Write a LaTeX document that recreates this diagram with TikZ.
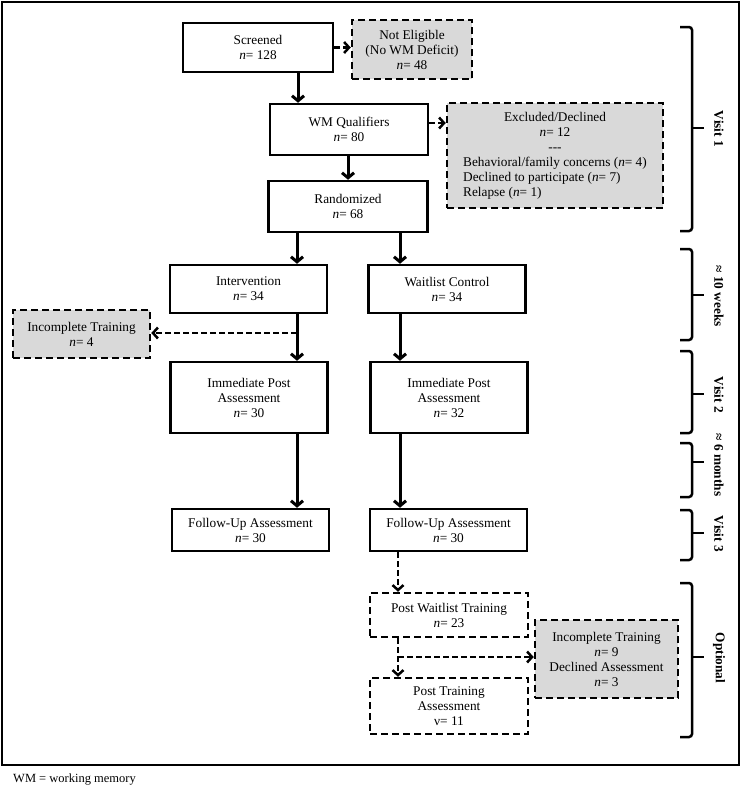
\documentclass[tikz,border=0pt]{standalone}
\usepackage{fontspec}
\setmainfont{Liberation Serif}
\usetikzlibrary{arrows.meta}
\definecolor{boxgray}{HTML}{D9D9D9}
\newcommand{\mainfs}{\fontsize{13.3}{15}\selectfont}
\begin{document}
\begin{tikzpicture}[x=1pt,y=-1pt,
  solidbox/.style={draw, line width=2.5pt, fill=white, align=center, inner sep=2pt, font=\mainfs},
  dashbox/.style={solidbox, dash pattern=on 7pt off 4pt},
  graybox/.style={dashbox, fill=boxgray},
  arr/.style={line width=3pt, -{Straight Barb[length=5pt,width=12pt]}},
  darr/.style={line width=2.5pt, dash pattern=on 6pt off 3pt, -{Straight Barb[length=5pt,width=11pt]}},
  brc/.style={line width=2.5pt, rounded corners=3pt},
  tick/.style={line width=2.5pt},
  lab/.style={font=\mainfs\bfseries, rotate=-90}]
\useasboundingbox (0,0) rectangle (742,790);
\draw[line width=2pt] (2,2) rectangle (739,765);

% nodes
\node[solidbox, minimum width=150pt, minimum height=49pt] (scr) at (258,47.5) {Screened\\\textit{n}= 128};
\node[graybox, minimum width=120pt, minimum height=59pt] (ne) at (412,49.5) {Not Eligible\\(No WM Deficit)\\\textit{n}= 48};
\node[solidbox, minimum width=158pt, minimum height=51pt] (wm) at (349,129.5) {WM Qualifiers\\\textit{n}= 80};
\node[graybox, minimum width=216pt, minimum height=105pt] (ex) at (555,155.5) {\begin{tabular}{@{}l@{}}\multicolumn{1}{@{}c@{}}{Excluded/Declined}\\\multicolumn{1}{@{}c@{}}{\textit{n}= 12}\\\multicolumn{1}{@{}c@{}}{-{}-{}-}\\Behavioral/family concerns (\textit{n}= 4)\\Declined to participate (\textit{n}= 7)\\Relapse (\textit{n}= 1)\end{tabular}};
\node[solidbox, minimum width=159pt, minimum height=51pt] (rand) at (348,206.5) {Randomized\\\textit{n}= 68};
\node[solidbox, minimum width=157pt, minimum height=48pt] (int) at (248.5,289) {Intervention\\\textit{n}= 34};
\node[solidbox, minimum width=157pt, minimum height=48pt] (wait) at (447,289) {Waitlist Control\\\textit{n}= 34};
\node[graybox, minimum width=137pt, minimum height=48pt] (inc1) at (81.5,334) {Incomplete Training\\\textit{n}= 4};
\node[solidbox, minimum width=157pt, minimum height=71pt] (imm1) at (249,397.5) {Immediate Post\\Assessment\\\textit{n}= 30};
\node[solidbox, minimum width=157pt, minimum height=71pt] (imm2) at (449,397.5) {Immediate Post\\Assessment\\\textit{n}= 32};
\node[solidbox, minimum width=157pt, minimum height=42pt] (fu1) at (250.5,530) {Follow-Up Assessment\\\textit{n}= 30};
\node[solidbox, minimum width=157pt, minimum height=42pt] (fu2) at (448.5,530) {Follow-Up Assessment\\\textit{n}= 30};
\node[dashbox, minimum width=158pt, minimum height=44pt] (pw) at (449,615) {Post Waitlist Training\\\textit{n}= 23};
\node[graybox, minimum width=143pt, minimum height=78pt] (inc2) at (606.5,659) {Incomplete Training\\\textit{n}= 9\\Declined Assessment\\\textit{n}= 3};
\node[dashbox, minimum width=158pt, minimum height=56pt] (pt) at (449,706) {Post Training\\Assessment\\ν= 11};

% helper coordinates
\coordinate (xa) at (298,0);
\coordinate (xb) at (348,0);
\coordinate (xc) at (297,0);
\coordinate (xd) at (400,0);
\coordinate (xe) at (398,0);
\coordinate (ya) at (0,123);
\coordinate (br1) at (297,333);
\coordinate (br2) at (398,657);

% connectors
\draw[darr] (scr.east) -- (scr.east -| ne.west);
\draw[arr] (scr.south -| xa) -- (wm.north -| xa);
\draw[darr] (wm.east |- ya) -- (ex.west |- ya);
\draw[arr] (wm.south -| xb) -- (rand.north -| xb);
\draw[arr] (rand.south -| xc) -- (int.north -| xc);
\draw[arr] (rand.south -| xd) -- (wait.north -| xd);
\draw[arr] (int.south -| xc) -- (imm1.north -| xc);
\draw[darr] (br1) -- (inc1.east |- br1);
\draw[arr] (wait.south -| xd) -- (imm2.north -| xd);
\draw[arr] (imm1.south -| xc) -- (fu1.north -| xc);
\draw[arr] (imm2.south -| xd) -- (fu2.north -| xd);
\draw[darr] (fu2.south -| xe) -- (pw.north -| xe);
\draw[darr] (pw.south -| xe) -- (pt.north -| xe);
\draw[darr] (br2) -- (inc2.west |- br2);

% braces and labels
\draw[brc] (680,27) -- (692,27) -- (692,231) -- (680,231);
\draw[tick] (692,128) -- (704,128);
\node[lab] (v1) at (719,129) {Visit 1};

\draw[brc] (680,249) -- (692,249) -- (692,340) -- (680,340);
\draw[tick] (692,295) -- (704,295);
\node[lab] (w10) at (719,296) {≈ 10 weeks};

\draw[brc] (680,351) -- (692,351) -- (692,433) -- (680,433);
\draw[tick] (692,394) -- (704,394);
\node[lab] (v2) at (719,395) {Visit 2};

\draw[brc] (680,443) -- (692,443) -- (692,497) -- (680,497);
\draw[tick] (692,462) -- (704,462);
\node[lab] (m6) at (719,465) {≈ 6 months};

\draw[brc] (680,510) -- (692,510) -- (692,560) -- (680,560);
\draw[tick] (692,533) -- (704,533);
\node[lab] (v3) at (719,534) {Visit 3};

\draw[brc] (680,583) -- (692,583) -- (692,737) -- (680,737);
\draw[tick] (692,657) -- (704,657);
\node[lab] (opt) at (719,658) {Optional};

\node[anchor=west, font=\fontsize{12.5}{14}\selectfont, inner sep=0pt] (cap) at (13,780) {WM = working memory};
\end{tikzpicture}
\end{document}
